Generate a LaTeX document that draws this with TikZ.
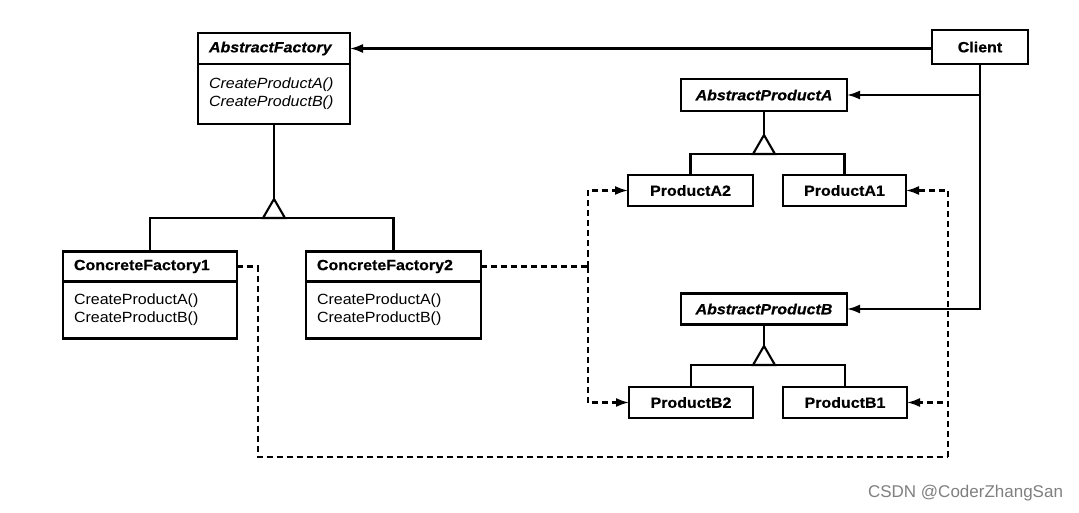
\documentclass[tikz,border=0pt]{standalone}
\usepackage{fontspec}
\setmainfont[FakeStretch=1.08, BoldFeatures={FakeBold=0.5}, BoldItalicFeatures={FakeBold=0.5}]{Liberation Sans}
\newfontfamily\wmfont{Liberation Sans}
\usetikzlibrary{arrows.meta}
\newcommand\umlsz{\fontsize{14.8}{18}\selectfont}
\begin{document}
\begin{tikzpicture}[x=1pt,y=-1pt,
  every node/.style={inner sep=0pt, outer sep=0pt},
  cls/.style={draw, line width=2.1pt, fill=white},
  lbox/.style={cls, align=left, inner xsep=11pt},
  cbox/.style={cls, align=center},
  solidln/.style={line width=2.1pt},
  assoc/.style={solidln, -{Latex[length=13pt,width=9pt]}},
  dep/.style={line width=2.1pt, dash pattern=on 6pt off 4pt},
  deparrow/.style={dep, -{Latex[length=13pt,width=9pt]}},
  inh/.style={line width=2.1pt, fill=white, line join=miter}
]
\fill[white] (0,0) rectangle (1079,513);
\useasboundingbox (0,0) rectangle (1079,513);

% AbstractFactory
\node[lbox, text width=130pt, minimum height=31pt, font=\umlsz\bfseries\itshape] (AFh) at (274,48.5) {AbstractFactory};
\node[lbox, text width=130pt, minimum height=60pt, anchor=north, font=\umlsz\itshape] (AFm) at (AFh.south) {CreateProductA()\\CreateProductB()};

% Client
\node[cbox, minimum width=96pt, minimum height=34pt, font=\umlsz\bfseries] (client) at (980,47) {Client};

% Concrete factories
\node[lbox, text width=152pt, minimum height=30pt, font=\umlsz\bfseries] (CF1h) at (150,266.5) {ConcreteFactory1};
\node[lbox, text width=152pt, minimum height=57pt, anchor=north, font=\umlsz] (CF1m) at (CF1h.south) {CreateProductA()\\CreateProductB()};
\node[lbox, text width=153pt, minimum height=30pt, font=\umlsz\bfseries] (CF2h) at (393.5,266.5) {ConcreteFactory2};
\node[lbox, text width=153pt, minimum height=57pt, anchor=north, font=\umlsz] (CF2m) at (CF2h.south) {CreateProductA()\\CreateProductB()};

% Products
\node[cbox, minimum width=166pt, minimum height=32pt, font=\umlsz\bfseries\itshape] (APA) at (764,95) {AbstractProductA};
\node[cbox, minimum width=125pt, minimum height=31pt, font=\umlsz\bfseries] (PA2) at (690.5,190.5) {ProductA2};
\node[cbox, minimum width=123pt, minimum height=31pt, font=\umlsz\bfseries] (PA1) at (844.5,190.5) {ProductA1};
\node[cbox, minimum width=166pt, minimum height=31pt, font=\umlsz\bfseries\itshape] (APB) at (764,309) {AbstractProductB};
\node[cbox, minimum width=124pt, minimum height=31pt, font=\umlsz\bfseries] (PB2) at (691,402.5) {ProductB2};
\node[cbox, minimum width=124pt, minimum height=31pt, font=\umlsz\bfseries] (PB1) at (845,402.5) {ProductB1};

% Client associations
\draw[assoc] (client.west |- AFh.east) -- (AFh.east);
\coordinate (cA) at (client.south |- APA.east);
\draw[assoc] (client.south) |- (APB.east);
\draw[assoc] (cA) -- (APA.east);

% Inheritance: factories
\coordinate (tAF) at (274,199);
\coordinate (bAF) at (274,218);
\draw[solidln] (AFm.south) -- (tAF);
\draw[solidln] (CF1h.north) |- (bAF) -| (CF2h.north);
\draw[inh] (tAF) -- ++(-11,19) -- ++(22,0) -- cycle;

% Inheritance: products A
\coordinate (tA) at (764,135);
\coordinate (bA) at (764,154);
\draw[solidln] (APA.south) -- (tA);
\draw[solidln] (PA2.north) |- (bA) -| (PA1.north);
\draw[inh] (tA) -- ++(-11,19) -- ++(22,0) -- cycle;

% Inheritance: products B
\coordinate (tB) at (764,346);
\coordinate (bB) at (764,365);
\draw[solidln] (APB.south) -- (tB);
\draw[solidln] (PB2.north) |- (bB) -| (PB1.north);
\draw[inh] (tB) -- ++(-11,19) -- ++(22,0) -- cycle;

% Dependencies: ConcreteFactory2
\coordinate (jR) at (588,266.5);
\draw[dep] (CF2h.east) -- (jR);
\draw[deparrow] (jR) |- (PA2.west);
\draw[deparrow] (jR) |- (PB2.west);

% Dependencies: ConcreteFactory1
\coordinate (jL1) at (258,266.5);
\coordinate (jL2) at (258,457);
\coordinate (jL3) at (948,457);
\draw[dep] (CF1h.east) -- (jL1) -- (jL2) -- (jL3);
\draw[deparrow] (jL3) |- (PA1.east);
\draw[deparrow] (jL3) |- (PB1.east);

% watermark
\node[anchor=east, font=\wmfont\fontsize{17}{17}\selectfont, text=black!50] (wm) at (1063,493) {CSDN @CoderZhangSan};
\end{tikzpicture}
\end{document}
